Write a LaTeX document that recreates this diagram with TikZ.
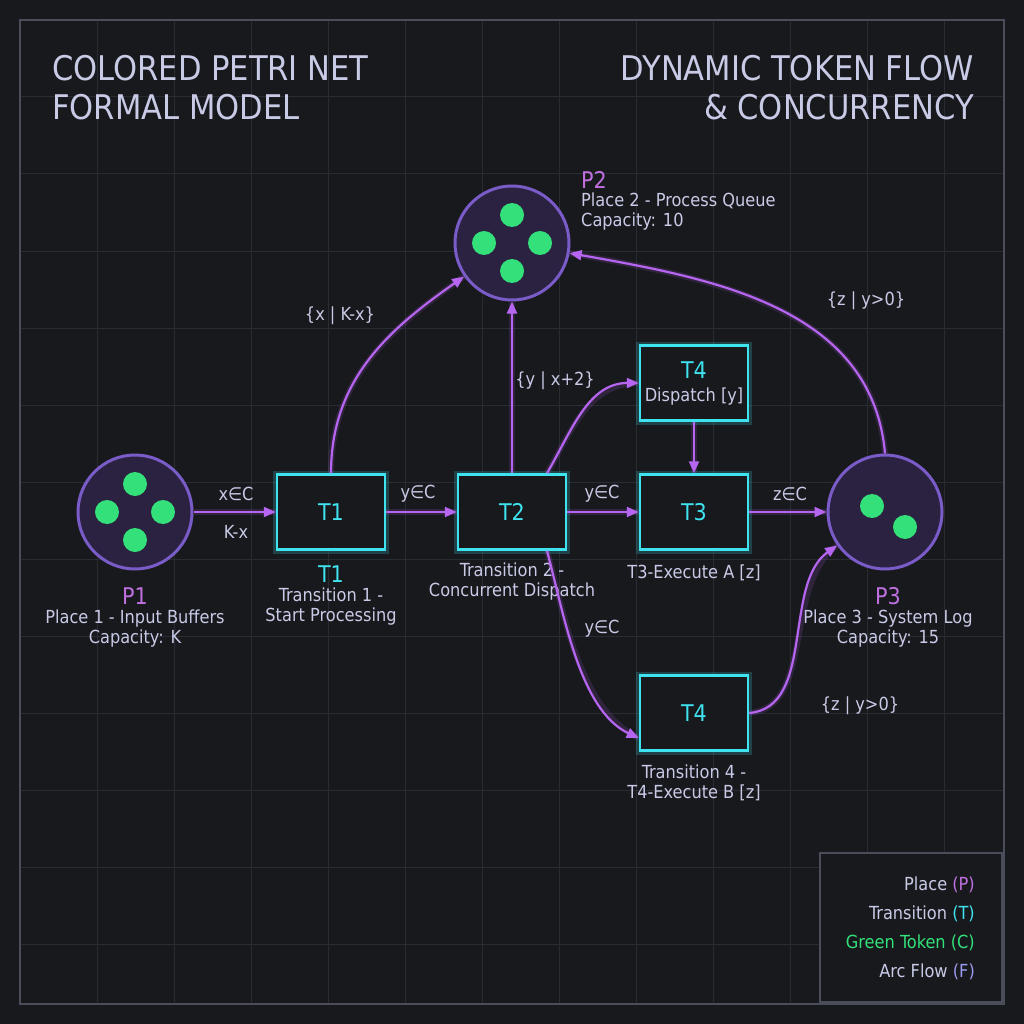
\documentclass[tikz,border=0pt]{standalone}
\usepackage{fontspec}
\setmainfont{DejaVu Sans Condensed}
\usetikzlibrary{arrows.meta,positioning}
\definecolor{bgc}{HTML}{18191D}
\definecolor{gridc}{HTML}{2A2C33}
\definecolor{framec}{HTML}{4A4D5A}
\definecolor{placec}{HTML}{7A5CC8}
\definecolor{placefill}{HTML}{2A2240}
\definecolor{transc}{HTML}{3FE3F0}
\definecolor{tokenc}{HTML}{33E07A}
\definecolor{arcc}{HTML}{B565F0}
\definecolor{txtc}{HTML}{C8CAE6}
\definecolor{pc}{HTML}{C070E0}
\definecolor{fc}{HTML}{9A9AF0}
\tikzset{
  place/.style = {circle, draw=placec, fill=placefill, line width=3pt, minimum size=114pt, inner sep=0pt},
  trans/.style = {rectangle, draw=transc, fill=bgc, line width=2.5pt, minimum width=108pt, minimum height=75pt, text=transc, font=\fontsize{23}{25}\selectfont,
    preaction={draw=transc, line width=8pt, opacity=0.2}},
  token/.style = {circle, fill=tokenc, minimum size=24pt, inner sep=0pt},
  arc/.style = {-{Triangle[length=12pt,width=10pt]}, draw=arcc, line width=2.2pt,
    preaction={draw=arcc, line width=6pt, opacity=0.15, -}},
  lbl/.style = {text=txtc, font=\fontsize{18}{20}\selectfont, inner sep=1pt},
  plbl/.style = {text=pc, font=\fontsize{23}{25}\selectfont, inner sep=1pt},
  title/.style = {text=txtc, font=\fontsize{34}{39}\selectfont, inner sep=0pt},
}
\begin{document}
\begin{tikzpicture}[x=1pt, y=-1pt]
    \fill[bgc] (0,0) rectangle (1024,1024);
    \useasboundingbox (0,0) rectangle (1024,1024);
    \foreach \g in {97,174,...,1000} {
        \draw[gridc, line width=1pt] (\g,20) -- (\g,1004);
        \draw[gridc, line width=1pt] (20,\g) -- (1004,\g);
    }
    \draw[framec, line width=1.5pt] (20,20) rectangle (1004,1004);

    % titles
    \node (TitleL) [title, anchor=west, align=left] at (52,88) {COLORED PETRI NET\\FORMAL MODEL};
    \node (TitleR) [title, anchor=east, align=right] at (974,88) {DYNAMIC TOKEN FLOW\\\& CONCURRENCY};

    % places
    \node (P1) [place] at (135,512) {};
    \node (P2) [place] at (512,243) {};
    \node (P3) [place] at (885,512) {};
    \foreach \p in {P1,P2} {
        \node [token] at ([yshift=-28pt]\p.center) {};
        \node [token] at ([yshift=28pt]\p.center) {};
        \node [token] at ([xshift=-28pt]\p.center) {};
        \node [token] at ([xshift=28pt]\p.center) {};
    }
    \node [token] at (872,506) {};
    \node [token] at (905,527) {};

    % transitions
    \node (T1) [trans] at (331,512) {T1};
    \node (T2) [trans] at (512,512) {T2};
    \node (T3) [trans] at (694,512) {T3};
    \node (T4a) [trans, align=center] at (694,383) {T4\\[-2pt]{\fontsize{18}{20}\selectfont\color{txtc}Dispatch [y]}};
    \node (T4b) [trans] at (694,713) {T4};

    % labels
    \node (P1name) [plbl] at (135,596) {P1};
    \node (P1desc) [lbl, align=center, anchor=north] at (135,609) {Place 1 - Input Buffers\\Capacity: K};
    \node (T1name) [plbl, text=transc] at (331,574) {T1};
    \node (T1desc) [lbl, align=center, anchor=north] at (331,587) {Transition 1 -\\Start Processing};
    \node (T2desc) [lbl, align=center, anchor=north] at (512,562) {Transition 2 -\\Concurrent Dispatch};
    \node (T3desc) [lbl] at (694,573) {T3-Execute A [z]};
    \node (T4desc) [lbl, align=center, anchor=north] at (694,764) {Transition 4 -\\T4-Execute B [z]};
    \node (P3name) [plbl] at (888,596) {P3};
    \node (P3desc) [lbl, align=center, anchor=north] at (888,609) {Place 3 - System Log\\Capacity: 15};
    \node (P2name) [plbl, anchor=west] at (580,180) {P2};
    \node (P2desc) [lbl, align=left, anchor=north west] at (580,192) {Place 2 - Process Queue\\Capacity: 10};

    % arcs
    \draw[arc] (P1) -- (T1);
    \draw[arc] (T1) -- (T2);
    \draw[arc] (T2) -- (T3);
    \draw[arc] (T3) -- (P3);
    \draw[arc] (T1.north) to[out=90, in=215] (P2);
    \draw[arc] (T2.north) -- (P2);
    \draw[arc] ([xshift=35pt]T2.north) to[out=60, in=180] (T4a.west);
    \draw[arc] (T4a) -- (T3);
    \draw[arc] (P3.north) to[out=95, in=-10] (P2);
    \draw[arc] ([xshift=35pt]T2.south) to[out=-75, in=155, looseness=0.8] ([yshift=-25pt]T4b.west);
    \draw[arc] (T4b.east) to[out=5, in=215, looseness=0.9] (P3);

    % arc labels
    \node (A1) [lbl] at (236,494) {x∈C};
    \node (A1b) [lbl] at (236,532) {K-x};
    \node (A2) [lbl] at (418,494) {y∈C};
    \node (A3) [lbl] at (602,494) {y∈C};
    \node (A4) [lbl] at (790,494) {z∈C};
    \node (A5) [lbl] at (340,316) {\{x | K-x\}};
    \node (A6) [lbl] at (555,381) {\{y | x+2\}};
    \node (A7) [lbl] at (866,301) {\{z | y>0\}};
    \node (A8) [lbl] at (602,629) {y∈C};
    \node (A9) [lbl] at (860,706) {\{z | y>0\}};

    % legend
    \draw[framec, line width=1.5pt, fill=bgc] (820,853) rectangle (1002,1002);
    \node (L1) [lbl, anchor=east] at (976,885) {Place {\color{pc}(P)}};
    \node (L2) [lbl, anchor=east] at (976,914) {Transition {\color{transc}(T)}};
    \node (L3) [lbl, anchor=east, text=tokenc] at (976,943) {Green Token (C)};
    \node (L4) [lbl, anchor=east] at (976,972) {Arc Flow {\color{fc}(F)}};
\end{tikzpicture}
\end{document}
